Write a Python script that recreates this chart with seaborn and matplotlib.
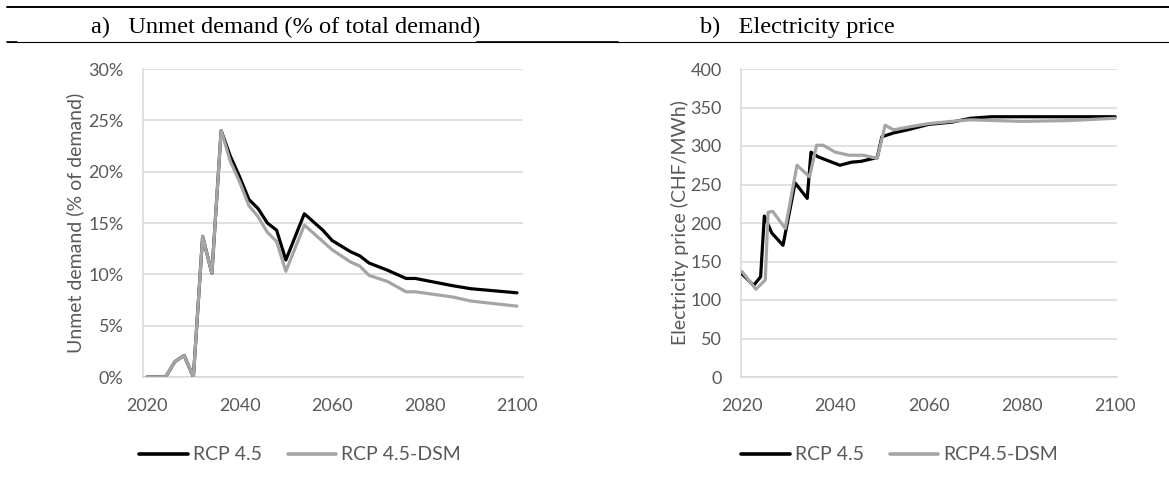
import numpy as np
import pandas as pd
import matplotlib
matplotlib.use("Agg")
import matplotlib.pyplot as plt
from matplotlib.lines import Line2D
from matplotlib.ticker import FuncFormatter, MultipleLocator
import seaborn as sns

# ---------------- data ----------------
unmet_years = [2020, 2024, 2026, 2028, 2030, 2032, 2034, 2036, 2038, 2040, 2042, 2044,
               2046, 2048, 2050, 2054, 2058, 2060, 2064, 2066, 2068, 2072, 2076, 2078,
               2086, 2090, 2100]
unmet_rcp45 = [0, 0, 1.5, 2.1, 0, 13.7, 10.1, 24.0, 21.5, 19.5, 17.3, 16.4,
               15.0, 14.3, 11.4, 15.9, 14.3, 13.3, 12.2, 11.8, 11.1, 10.4, 9.6, 9.6,
               8.9, 8.6, 8.2]
unmet_rcp45_dsm = [0, 0, 1.5, 2.1, 0, 13.7, 10.1, 24.0, 21.0, 19.0, 16.7, 15.6,
                   14.1, 13.2, 10.3, 14.8, 13.2, 12.4, 11.2, 10.8, 9.9, 9.3, 8.3, 8.3,
                   7.8, 7.4, 6.9]

price_years_rcp45 = [2020, 2022.5, 2024, 2024.8, 2026.4, 2028.8, 2031.4, 2034, 2034.8,
                     2036.3, 2038, 2041, 2043.5, 2045.5, 2049, 2050, 2052.5, 2055.5,
                     2060, 2065, 2069, 2073.5, 2100]
price_rcp45 = [134, 119, 130, 209, 187, 171, 252, 232, 292,
               286, 282, 275, 279, 280, 285, 312, 317, 321,
               328, 331, 336, 338, 338]
price_years_dsm = [2020, 2023, 2025, 2025.6, 2026.6, 2029.3, 2031.8, 2034.5, 2036,
                   2037.4, 2040, 2043, 2046, 2049, 2050.7, 2052.5, 2056, 2060, 2065,
                   2069, 2080, 2090, 2100]
price_rcp45_dsm = [137, 114, 126, 214, 215, 193, 275, 260, 301,
                   301, 292, 288, 288, 284, 327, 321, 325, 329, 332,
                   334, 332, 333, 336]

labels_a = ["RCP 4.5", "RCP 4.5-DSM"]
labels_b = ["RCP 4.5", "RCP4.5-DSM"]
title_a = "a)   Unmet demand (% of total demand)"
title_b = "b)   Electricity price"
ylabel_a = "Unmet demand (% of demand)"
ylabel_b = "Electricity price (CHF/MWh)"
xticks = [2020, 2040, 2060, 2080, 2100]

# ---------------- style ----------------
sns.set_theme(style="white")
plt.rcParams["font.family"] = ["Lato", "DejaVu Sans"]

W, H = 1169, 488
fig = plt.figure(figsize=(W / 100, H / 100), dpi=100)

def px_axes(l, t, r, b):
    return fig.add_axes([l / W, 1 - b / H, (r - l) / W, (b - t) / H])

ax_a = px_axes(143, 69, 523, 377)
ax_b = px_axes(741, 69, 1117, 377)

black = "#000000"
gray = "#A5A5A5"
grid_c = "#D9D9D9"
txt_c = "#595959"

df_a = pd.concat([
    pd.DataFrame({"year": unmet_years, "value": unmet_rcp45, "series": labels_a[0]}),
    pd.DataFrame({"year": unmet_years, "value": unmet_rcp45_dsm, "series": labels_a[1]}),
])
df_b = pd.concat([
    pd.DataFrame({"year": price_years_rcp45, "value": price_rcp45, "series": labels_b[0]}),
    pd.DataFrame({"year": price_years_dsm, "value": price_rcp45_dsm, "series": labels_b[1]}),
])

sns.lineplot(data=df_a, x="year", y="value", hue="series", hue_order=labels_a,
             palette=[black, gray], linewidth=2.3, ax=ax_a, legend=False, sort=False,
             estimator=None)
sns.lineplot(data=df_b, x="year", y="value", hue="series", hue_order=labels_b,
             palette=[black, gray], linewidth=2.3, ax=ax_b, legend=False, sort=False,
             estimator=None)
for ax in (ax_a, ax_b):
    lines = ax.get_lines()
    if len(lines) >= 2:
        lines[0].set_zorder(3)
        lines[1].set_zorder(4)

ax_a.set_xlim(2019.1, 2101.3)
ax_a.set_ylim(0, 30)
ax_a.yaxis.set_major_locator(MultipleLocator(5))
ax_a.yaxis.set_major_formatter(FuncFormatter(lambda v, p: f"{v:.0f}%"))
ax_b.set_xlim(2019.8, 2100.4)
ax_b.set_ylim(0, 400)
ax_b.yaxis.set_major_locator(MultipleLocator(50))

for ax, yl, lx in ((ax_a, ylabel_a, 75), (ax_b, ylabel_b, 680)):
    ax.set_xticks(xticks)
    ax.grid(axis="y", color=grid_c, linewidth=1.1)
    ax.set_axisbelow(True)
    for s in ("top", "right"):
        ax.spines[s].set_visible(False)
    ax.spines["left"].set_color(grid_c)
    ax.spines["left"].set_linewidth(1.1)
    ax.spines["bottom"].set_color(grid_c)
    ax.spines["bottom"].set_linewidth(1.1)
    ax.tick_params(axis="y", length=0, pad=14, labelsize=13, labelcolor=txt_c)
    ax.tick_params(axis="x", length=0, pad=15, labelsize=13, labelcolor=txt_c)
    ax.set_xlabel("")
    ax.set_ylabel(yl, fontsize=14, color=txt_c)
    x0 = ax.get_position().x0 * W
    w = ax.get_position().width * W
    ax.yaxis.set_label_coords((lx - x0) / w, 0.5)
    ax.yaxis.label.set_va("center")

ax_a.tick_params(axis="x", length=4, color=grid_c, width=1.1, direction="out", pad=11)

# legends
for ax, labs, lx in ((ax_a, labels_a, 139), (ax_b, labels_b, 741)):
    handles = [Line2D([], [], color=black, linewidth=2.6),
               Line2D([], [], color=gray, linewidth=2.6)]
    fig.legend(handles, labs, loc="center left", bbox_to_anchor=(lx / W, 1 - 455 / H),
               ncol=2, frameon=False, fontsize=14, labelcolor=txt_c,
               handlelength=2.5, handletextpad=0.26, columnspacing=1.34, borderpad=0,
               borderaxespad=0)

# titles (document table header)
fig.text(91 / W, 1 - 33 / H, title_a, fontsize=17.6, family="Liberation Serif",
         color="black", va="baseline", ha="left")
fig.text(700 / W, 1 - 33 / H, title_b, fontsize=17.6, family="Liberation Serif",
         color="black", va="baseline", ha="left")
fig.add_artist(Line2D([7 / W, 1], [1 - 7 / H, 1 - 7 / H], color="black", linewidth=1.4))
fig.add_artist(Line2D([7 / W, 1], [1 - 42 / H, 1 - 42 / H], color="black", linewidth=0.8))
fig.add_artist(Line2D([477 / W, 618 / W], [1 - 42 / H, 1 - 42 / H], color="black", linewidth=1.2))
fig.add_artist(Line2D([7 / W, 17 / W], [1 - 42 / H, 1 - 42 / H], color="black", linewidth=1.2))

fig.savefig("out.png", dpi=100)
